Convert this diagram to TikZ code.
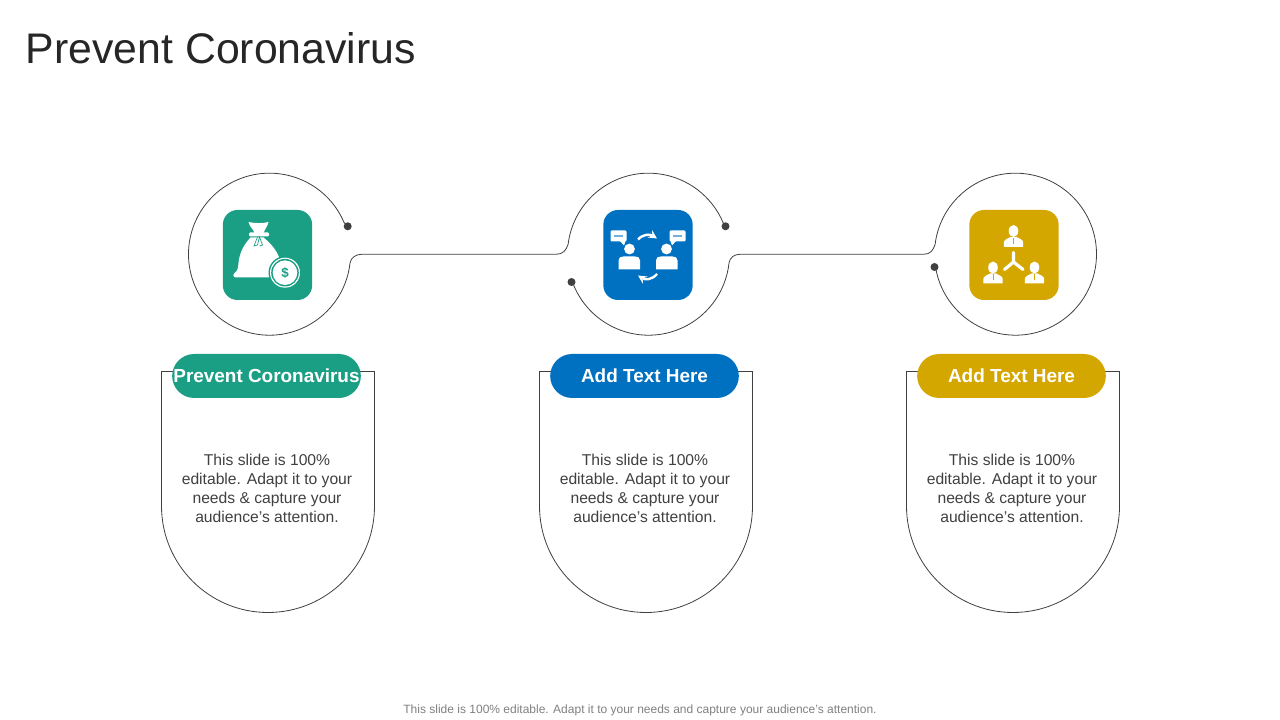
\documentclass[tikz,border=0pt]{standalone}
\usepackage{fontspec}
\setmainfont{Liberation Sans}
\usetikzlibrary{calc,arrows}
\definecolor{teal1}{HTML}{1A9F85}
\definecolor{blue1}{HTML}{0070C0}
\definecolor{gold1}{HTML}{D4A600}
\definecolor{ink}{HTML}{404040}
\tikzset{
  wire/.style={draw=ink,line width=0.6pt},
  dotmark/.style={circle,fill=ink,inner sep=0pt,minimum size=6pt},
  iconbox/.style={rounded corners=11pt,inner sep=0pt,minimum width=67pt,minimum height=67.5pt},
  pill/.style={rounded corners=16.5pt,inner sep=0pt,minimum width=141.5pt,minimum height=33pt,text=white,font=\fontsize{14.2}{16}\selectfont\bfseries},
  blurb/.style={align=center,text=ink,inner sep=0pt,font=\fontsize{11.75}{14.25}\selectfont},
  glyph/.style={fill=white,draw=none}
}
\begin{document}
\begin{tikzpicture}[x=0.75pt,y=0.75pt]
\useasboundingbox (0,0) rectangle (1280,720);
\node[anchor=base west,inner sep=0pt,text=black!85,font=\fontsize{32.1}{36}\selectfont] (title) at (25.5,656) {Prevent Coronavirus};

\coordinate (c1) at (269.5,465.8);
\coordinate (c2) at (648.5,465.8);
\coordinate (c3) at (1015.5,465.8);

\node[dotmark] (d1) at (347.7,493.7) {};
\node[dotmark] (d2) at (571.5,438) {};
\node[dotmark] (d3) at (725.5,493.7) {};
\node[dotmark] (d4) at (934.5,453) {};

\draw[wire] (d1.center) -- ($(c1)+(23:81)$) arc[start angle=23,end angle=354,radius=81]
  .. controls +(1,5) and +(-6,0) .. (361.7,465.7) -- (556,465.7)
  .. controls +(7,0) and +(-2,-6) .. ($(c2)+(173:81)$) arc[start angle=173,end angle=23,radius=81] -- (d3.center);
\draw[wire] (d2.center) -- ($(c2)+(201:81)$) arc[start angle=201,end angle=354,radius=81]
  .. controls +(1,5) and +(-6,0) .. (740,465.7) -- (923.5,465.7)
  .. controls +(7,0) and +(-2,-6) .. ($(c3)+(173:81)$) arc[start angle=173,end angle=-172,radius=81] -- (d4.center);

\foreach \n/\x/\col/\lab in {1/268/teal1/Prevent Coronavirus,2/646/blue1/Add Text Here,3/1013/gold1/Add Text Here}{
  \draw[wire] (\x-106.5,348.5) -- (\x+106.5,348.5) -- (\x+106.5,214) arc[start angle=0,end angle=-180,radius=106.5] -- cycle;
  \node[pill,fill=\col] (tag\n) at (\x-1.5,344) {\raisebox{0.75pt}{\lab}};
  \node[blurb] (txt\n) at (\x-1,232) {This slide is 100\%\\editable. Adapt it to your\\needs \& capture your\\audience’s attention.};
}

\node[iconbox,fill=teal1] (box1) at (267.5,465) {};
\node[iconbox,fill=blue1] (box2) at (648,465) {};
\node[iconbox,fill=gold1] (box3) at (1014,465) {};

\begin{scope}[shift={(box1.center)},yscale=-1]
\fill[glyph] (-19,-33) .. controls (-12,-31.5) and (-5,-31.5) .. (1,-33) .. controls (0,-28) and (-3,-26) .. (-4,-22) -- (-13,-22) .. controls (-14,-26) and (-18,-28) .. (-19,-33) -- cycle;
\fill[glyph,rounded corners=0.8pt] (-18.5,-22.5) rectangle (1.5,-18.5);
\fill[glyph] (-17,-17.5) -- (-4,-17.5) .. controls (3,-12) and (9,-5) .. (12,3.5) -- (14,22.5) -- (-31.5,22.5) .. controls (-34.5,22.5) and (-35,19) .. (-33.5,18.5) .. controls (-30,16) and (-29.5,14) .. (-29,8) .. controls (-28,-2) and (-24,-10) .. (-17,-17.5) -- cycle;
\draw[teal1,line width=0.5pt] (-10,-18) -- (-13.5,-9) -- (-10,-10) -- (-8,-18) -- (-5,-10) -- (-8,-9);
\fill[teal1] (17.5,17.7) circle[radius=16.5];
\fill[white] (17.5,17.7) circle[radius=15];
\fill[teal1] (17.5,17.7) circle[radius=13.8];
\fill[white] (17.5,17.7) circle[radius=12.3];
\node[text=teal1,inner sep=0pt,font=\fontsize{10}{10}\selectfont\bfseries] (coin) at (17.5,17.7) {\$};
\end{scope}

\begin{scope}[shift={(box2.center)},yscale=-1]
\foreach \s in {-1,1}{
  \fill[glyph] (\s*18.5,-6) circle[radius=5.4];
  \fill[glyph] (\s*8,14.5) -- (\s*8,5.5) .. controls (\s*8,2.5) and (\s*10,1.5) .. (\s*13,1.5) -- (\s*24.5,1.5) .. controls (\s*27.5,1.5) and (\s*29.5,2.5) .. (\s*29.5,5.5) -- (\s*29.5,14.5) -- cycle;
  \fill[glyph,rounded corners=0.8pt] (\s*21.5,-24.5) rectangle (\s*37.5,-13.5);
  \fill[glyph] (\s*22.5,-14) -- (\s*24,-9.5) -- (\s*28,-14) -- cycle;
  \draw[blue1!55,line width=1pt] (\s*25,-19) -- (\s*34,-19);
}
\draw[white,line width=1.8pt,-stealth] (-10,-15.5) .. controls (-5,-21) and (2,-21) .. (9,-16.5);
\draw[white,line width=1.8pt,-stealth] (9,19) .. controls (4,25) and (-3,25) .. (-10,20.5);
\end{scope}

\begin{scope}[shift={(box3.center)},yscale=-1]
\foreach \px/\py in {-0.5/-24,-21/12.5,20.5/12.5}{
  \fill[glyph] (\px,\py) ellipse[x radius=4.8,y radius=6];
  \fill[glyph] (\px-9.7,\py+16) -- (\px-9.7,\py+11.5) .. controls (\px-9.7,\py+9) and (\px-6,\py+7.5) .. (\px-3,\py+6) -- (\px+3,\py+6) .. controls (\px+6,\py+7.5) and (\px+9.7,\py+9) .. (\px+9.7,\py+11.5) -- (\px+9.7,\py+16) -- cycle;
  \draw[gold1,line width=0.5pt] (\px,\py+7) -- (\px,\py+13);
}
\draw[white,line width=2.4pt,line cap=round] (-0.5,-2.5) -- (-0.5,7) (-0.5,7) -- (-9.5,14.5) (-0.5,7) -- (9,14.5);
\end{scope}

\node[anchor=base,inner sep=0pt,text=black!50,font=\fontsize{9}{11}\selectfont] (foot) at (640,6) {This slide is 100\% editable. Adapt it to your needs and capture your audience's attention.};
\end{tikzpicture}
\end{document}
